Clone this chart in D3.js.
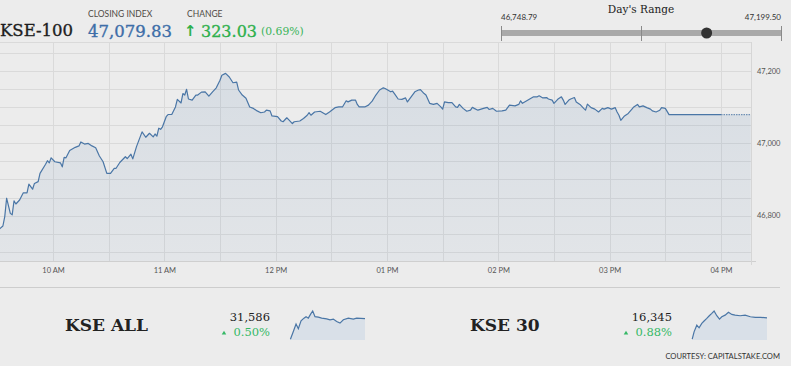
<!DOCTYPE html>
<html>
<head>
<meta charset="utf-8">
<script src="https://cdn.jsdelivr.net/npm/d3@7"></script>
<style>
  body { margin: 0; background: #ececec; }
  svg { display: block; font-family: Lato, sans-serif; }
  .serif { font-family: "DejaVu Serif", serif; }
  .heavy { stroke-width: 0.35px; }
  .grid line { stroke: #dadada; stroke-width: 1; }
  .axis-label { font-size: 7.5px; fill: #555; }
</style>
</head>
<body>
<div id="board"></div>
<script>
// Header numbers
const closingIndex = 47079.83;
const changePoints = 323.03;
const changePct = 0.69;
const dayRange = [46748.79, 47199.50];

// KSE-100 intraday, [time, index]
const kse100Ticks = [
  ["09:30",46749],["09:31",46762],["09:33",46771],["09:34",46797],["09:35",46848],["09:37",46806],["09:38",46802],
  ["09:39",46841],["09:40",46832],["09:42",46843],["09:44",46863],["09:46",46863],["09:47",46887],["09:49",46873],
  ["09:50",46889],["09:52",46894],["09:53",46917],["09:56",46942],["09:57",46952],["09:58",46946],["09:59",46960],
  ["10:01",46949],["10:04",46946],["10:05",46935],["10:06",46961],["10:07",46960],["10:09",46980],["10:12",46989],
  ["10:14",46993],["10:15",47004],["10:17",46998],["10:19",47000],["10:21",46993],["10:23",46988],["10:25",46965],
  ["10:27",46949],["10:29",46917],["10:31",46917],["10:33",46931],["10:34",46931],["10:36",46947],["10:39",46963],
  ["10:40",46958],["10:42",46970],["10:43",46957],["10:45",46991],["10:48",47032],["10:50",47017],["10:52",47028],
  ["10:54",47018],["10:55",47026],["10:56",47020],["10:57",47042],["10:58",47039],["10:59",47046],["11:01",47074],
  ["11:02",47080],["11:04",47080],["11:06",47101],["11:07",47122],["11:09",47112],["11:10",47138],["11:11",47134],
  ["11:12",47150],["11:13",47123],["11:15",47120],["11:17",47134],["11:18",47134],["11:20",47142],["11:22",47143],
  ["11:24",47131],["11:26",47143],["11:28",47154],["11:30",47175],["11:31",47189],["11:33",47194],["11:35",47184],
  ["11:37",47168],["11:39",47170],["11:40",47148],["11:42",47134],["11:44",47125],["11:46",47101],["11:48",47097],
  ["11:50",47090],["11:52",47085],["11:54",47087],["11:55",47092],["11:57",47090],["11:58",47076],["12:01",47074],
  ["12:03",47062],["12:04",47060],["12:06",47071],["12:07",47066],["12:09",47055],["12:10",47060],["12:13",47062],
  ["12:15",47069],["12:17",47078],["12:18",47085],["12:19",47078],["12:21",47087],["12:24",47089],["12:27",47080],
  ["12:29",47087],["12:32",47099],["12:34",47101],["12:36",47101],["12:38",47118],["12:39",47115],["12:41",47120],
  ["12:43",47120],["12:44",47108],["12:45",47101],["12:48",47101],["12:50",47106],["12:52",47117],["12:54",47134],
  ["12:56",47148],["12:58",47154],["12:59",47152],["13:02",47143],["13:03",47145],["13:04",47138],["13:06",47123],
  ["13:08",47122],["13:10",47126],["13:11",47115],["13:13",47129],["13:15",47143],["13:17",47148],["13:18",47149],
  ["13:20",47138],["13:21",47134],["13:23",47111],["13:25",47108],["13:27",47111],["13:29",47101],["13:30",47095],
  ["13:31",47115],["13:33",47113],["13:35",47113],["13:37",47101],["13:38",47100],["13:39",47108],["13:41",47097],
  ["13:43",47089],["13:45",47092],["13:46",47100],["13:47",47097],["13:49",47092],["13:52",47097],["13:54",47100],
  ["13:55",47094],["13:57",47097],["13:59",47089],["14:02",47090],["14:04",47092],["14:06",47106],["14:09",47104],
  ["14:11",47108],["14:12",47118],["14:13",47111],["14:16",47120],["14:19",47129],["14:21",47129],["14:22",47132],
  ["14:24",47126],["14:26",47127],["14:27",47123],["14:29",47120],["14:30",47111],["14:32",47122],["14:34",47129],
  ["14:35",47120],["14:36",47108],["14:38",47120],["14:39",47123],["14:41",47127],["14:42",47115],["14:44",47108],
  ["14:46",47097],["14:47",47092],["14:48",47109],["14:50",47099],["14:52",47095],["14:54",47087],["14:56",47097],
  ["14:57",47095],["14:59",47099],["15:01",47095],["15:03",47099],["15:04",47087],["15:05",47078],["15:06",47064],
  ["15:08",47076],["15:10",47083],["15:12",47095],["15:13",47101],["15:15",47108],["15:16",47101],["15:18",47104],
  ["15:20",47099],["15:22",47095],["15:23",47090],["15:25",47087],["15:27",47092],["15:28",47099],["15:30",47097],
  ["15:32",47079.83],["16:00",47079.83],["16:16",47079.83]
];

// Sparklines
const kseAllTicks = [
  ["09:32",31436],["09:46",31492],["09:59",31546],["10:10",31512],["10:23",31569],["10:37",31589],["10:47",31600],
  ["10:58",31589],["11:09",31618],["11:19",31641],["11:30",31600],["11:46",31596],["12:02",31589],["12:26",31584],
  ["12:42",31577],["12:58",31582],["13:14",31564],["13:30",31553],["13:46",31577],["14:10",31589],["14:34",31582],
  ["14:50",31589],["15:30",31586]
];
const kse30Ticks = [
  ["09:31",16200],["09:40",16250],["09:53",16295],["10:04",16277],["10:17",16307],["10:28",16323],["10:41",16341],
  ["10:53",16359],["11:05",16375],["11:16",16391],["11:29",16359],["11:42",16336],["11:53",16352],["12:09",16363],
  ["12:25",16382],["12:41",16368],["12:57",16363],["13:21",16359],["13:45",16363],["14:10",16352],["14:34",16348],
  ["14:58",16348],["15:30",16345]
];
const otherNames = ["KSE ALL", "KSE 30"];
const otherLast = [31586, 16345];
const otherPct = [0.50, 0.88];

// Axis ticks
const yTickValues = [46800, 47000, 47200];
const hourTicks = ["10:00", "11:00", "12:00", "13:00", "14:00", "15:00", "16:00"];

const parseTime = d3.timeParse("%H:%M");

class IntradayChart {
  constructor(_config) {
    this.config = {
      data: _config.data,
      parentElement: _config.parentElement,
      svgWidth: _config.svgWidth || 791,
      svgHeight: _config.svgHeight || 366
    };
    this.initVis();
  }

  plot = {left: 0, right: 751, top: 42, bottom: 261};

  initVis() {
    const vis = this;

    vis.svg = d3.select(vis.config.parentElement).append('svg')
      .attr('width', vis.config.svgWidth)
      .attr('height', vis.config.svgHeight);

    // 10AM and 4PM grid positions
    vis.xScale = d3.scaleTime()
      .domain([parseTime("10:00"), parseTime("16:00")])
      .range([53, 721]);

    vis.yScale = d3.scaleLinear()
      .domain([46674, 47281])
      .range([vis.plot.bottom, vis.plot.top]);

    vis.data = vis.config.data.map(d => ({t: parseTime(d[0]), v: d[1]}));
    vis.renderVis();
  }

  renderVis() {
    const vis = this;
    const p = vis.plot;

    const defs = vis.svg.append('defs');
    const grad = defs.append('linearGradient')
      .attr('id', 'area-fill')
      .attr('x1', 0).attr('y1', 0).attr('x2', 0).attr('y2', 1);
    grad.append('stop').attr('offset', '0%').attr('stop-color', '#4b78aa').attr('stop-opacity', 0.13);
    grad.append('stop').attr('offset', '100%').attr('stop-color', '#4b78aa').attr('stop-opacity', 0.06);

    defs.append('clipPath').attr('id', 'plot-clip')
      .append('rect')
      .attr('x', p.left).attr('y', p.top)
      .attr('width', p.right - p.left).attr('height', p.bottom - p.top);

    defs.append('clipPath').attr('id', 'label-clip')
      .append('rect')
      .attr('x', 0).attr('y', 0).attr('width', 780).attr('height', 366);

    // Grid
    const hGrid = d3.range(46700, 47251, 50);
    const vGrid = d3.timeMinute.every(30).range(parseTime("10:00"), d3.timeMinute.offset(parseTime("16:00"), 1));

    const grid = vis.svg.append('g').attr('class', 'grid');
    grid.selectAll('.h').data(hGrid).join('line')
      .attr('x1', p.left).attr('x2', p.right)
      .attr('y1', d => Math.round(vis.yScale(d)) + 0.5)
      .attr('y2', d => Math.round(vis.yScale(d)) + 0.5);
    grid.selectAll('.v').data(vGrid).join('line')
      .attr('y1', p.top).attr('y2', p.bottom)
      .attr('x1', d => Math.round(vis.xScale(d)) + 0.5)
      .attr('x2', d => Math.round(vis.xScale(d)) + 0.5);
    grid.append('line')
      .attr('x1', p.left).attr('x2', p.right)
      .attr('y1', p.top + 0.5).attr('y2', p.top + 0.5);

    // Area + line
    const chart = vis.svg.append('g').attr('clip-path', 'url(#plot-clip)');
    const area = d3.area()
      .x(d => vis.xScale(d.t))
      .y0(p.bottom)
      .y1(d => vis.yScale(d.v));
    const line = d3.line()
      .x(d => vis.xScale(d.t))
      .y(d => vis.yScale(d.v));

    chart.append('path')
      .datum(vis.data)
      .attr('fill', 'url(#area-fill)')
      .attr('d', area);

    const closeTime = parseTime("16:00");
    chart.append('path')
      .datum(vis.data.filter(d => d.t <= closeTime))
      .attr('fill', 'none')
      .attr('stroke', '#4a76a6')
      .attr('stroke-width', 1.2)
      .attr('stroke-linejoin', 'round')
      .attr('d', line);
    // After-hours part is drawn dotted
    chart.append('path')
      .datum(vis.data.filter(d => d.t >= closeTime))
      .attr('fill', 'none')
      .attr('stroke', '#6f90b5')
      .attr('stroke-width', 1.1)
      .attr('stroke-dasharray', '1.5,1')
      .attr('d', line);

    // Axes
    const xAxis = d3.axisBottom(vis.xScale)
      .tickValues(hourTicks.map(parseTime))
      .tickFormat(d3.timeFormat("%I %p"))
      .tickSize(0)
      .tickPadding(7);
    const xAxisGroup = vis.svg.append('g')
      .attr('transform', `translate(0, ${p.bottom})`)
      .call(xAxis);
    xAxisGroup.select('.domain').remove();
    xAxisGroup.selectAll('text').attr('class', 'axis-label').attr('font-family', 'Lato');

    vis.svg.append('line')
      .attr('x1', p.left).attr('x2', p.right + 5)
      .attr('y1', p.bottom + 0.5).attr('y2', p.bottom + 0.5)
      .attr('stroke', '#cfcfcf');
    vis.svg.append('line')
      .attr('x1', p.right + 0.5).attr('x2', p.right + 0.5)
      .attr('y1', p.top).attr('y2', p.bottom + 4)
      .attr('stroke', '#d6d6d6');

    const yAxis = d3.axisRight(vis.yScale)
      .tickValues(yTickValues)
      .tickFormat(d3.format(","))
      .tickSize(0)
      .tickPadding(6);
    const yAxisGroup = vis.svg.append('g')
      .attr('transform', `translate(${p.right}, 0)`)
      .attr('clip-path', 'url(#label-clip)')
      .call(yAxis);
    yAxisGroup.select('.domain').remove();
    yAxisGroup.selectAll('text').attr('class', 'axis-label').attr('fill', '#444').attr('font-family', 'Lato');

    vis.drawHeader();
    vis.drawRange();
  }

  drawHeader() {
    const vis = this;
    const h = vis.svg.append('g');

    h.append('text').attr('class', 'serif heavy')
      .attr('x', 0).attr('y', 36)
      .attr('font-size', 16.5).attr('fill', '#1e1e1e').attr('stroke', '#1e1e1e')
      .text('KSE-100');

    h.append('text')
      .attr('x', 88).attr('y', 17)
      .attr('font-size', 8.5).attr('fill', '#4f4a45')
      .text('CLOSING INDEX');
    h.append('text').attr('class', 'serif heavy')
      .attr('x', 88).attr('y', 37)
      .attr('font-size', 16.5).attr('fill', '#3d6ea8').attr('stroke', '#3d6ea8')
      .text(d3.format(",.2f")(closingIndex));

    h.append('text')
      .attr('x', 187).attr('y', 17)
      .attr('font-size', 8.5).attr('fill', '#4f4a45')
      .text('CHANGE');
    h.append('text')
      .attr('x', 184).attr('y', 36)
      .attr('font-family', 'DejaVu Sans').attr('font-weight', 'bold')
      .attr('font-size', 15).attr('fill', '#2eb04c')
      .text('↑');
    h.append('text').attr('class', 'serif heavy')
      .attr('x', 201).attr('y', 37)
      .attr('font-size', 16).attr('fill', '#2eb04c').attr('stroke', '#2eb04c')
      .text(d3.format(".2f")(changePoints));
    h.append('text').attr('class', 'serif')
      .attr('x', 261).attr('y', 35)
      .attr('font-size', 10.8).attr('fill', '#3ab45a')
      .text(`(${changePct.toFixed(2)}%)`);
  }

  drawRange() {
    const vis = this;
    const g = vis.svg.append('g');
    const rangeScale = d3.scaleLinear().domain(dayRange).range([501, 781]);

    g.append('text').attr('class', 'serif')
      .attr('x', rangeScale(d3.mean(dayRange))).attr('y', 12.5)
      .attr('text-anchor', 'middle')
      .attr('font-size', 10.5).attr('fill', '#222')
      .text("Day's Range");
    g.append('text')
      .attr('x', rangeScale(dayRange[0])).attr('y', 19.5)
      .attr('font-size', 8).attr('fill', '#333')
      .text(d3.format(",.2f")(dayRange[0]));
    g.append('text')
      .attr('x', rangeScale(dayRange[1])).attr('y', 19.5)
      .attr('text-anchor', 'end')
      .attr('font-size', 8).attr('fill', '#333')
      .text(d3.format(",.2f")(dayRange[1]));

    g.append('rect')
      .attr('x', rangeScale(dayRange[0])).attr('y', 30)
      .attr('width', rangeScale(dayRange[1]) - rangeScale(dayRange[0]))
      .attr('height', 6)
      .attr('fill', '#a9a9a9');
    g.selectAll('.cap').data([dayRange[0], d3.mean(dayRange), dayRange[1]]).join('line')
      .attr('x1', d => Math.round(rangeScale(d)) + 0.5)
      .attr('x2', d => Math.round(rangeScale(d)) + 0.5)
      .attr('y1', 26).attr('y2', 41)
      .attr('stroke', '#8a8a8a');
    g.append('circle')
      .attr('cx', rangeScale(closingIndex)).attr('cy', 33)
      .attr('r', 5.5)
      .attr('fill', '#333');
  }
}

class Sparkline {
  constructor(_config) {
    this.config = _config;
    this.initVis();
  }

  initVis() {
    const vis = this;
    const c = vis.config;
    const data = c.data.map(d => ({t: parseTime(d[0]), v: d[1]}));

    const xScale = d3.scaleTime()
      .domain([parseTime("09:30"), parseTime("15:30")])
      .range([c.x0, c.x1]);
    const yScale = d3.scaleLinear()
      .domain(d3.extent(data, d => d.v))
      .range([c.bottom - 0.8, c.top]);

    const g = c.svg.append('g');
    g.append('path')
      .datum(data)
      .attr('fill', '#d9e0e8')
      .attr('d', d3.area().x(d => xScale(d.t)).y0(c.bottom).y1(d => yScale(d.v)));
    g.append('path')
      .datum(data)
      .attr('fill', 'none')
      .attr('stroke', '#4a76a6')
      .attr('stroke-width', 1.2)
      .attr('d', d3.line().x(d => xScale(d.t)).y(d => yScale(d.v)));

    g.append('text').attr('class', 'serif')
      .attr('x', c.nameX).attr('y', 331)
      .attr('font-size', 17).attr('font-weight', 'bold').attr('fill', '#222')
      .text(c.name);
    g.append('text').attr('class', 'serif')
      .attr('x', c.textRight).attr('y', 320.5)
      .attr('text-anchor', 'end')
      .attr('font-size', 11.5).attr('fill', '#222')
      .text(d3.format(",")(c.last));
    g.append('text').attr('class', 'serif')
      .attr('x', c.textRight).attr('y', 336)
      .attr('text-anchor', 'end')
      .attr('font-size', 11.5).attr('fill', '#35b866')
      .text(`${c.pct.toFixed(2)}%`);
    g.append('path')
      .attr('transform', `translate(${c.textRight - 46}, 333.3)`)
      .attr('fill', '#35b866')
      .attr('d', d3.symbol(d3.symbolTriangle, 9)());
  }
}

const kseChart = new IntradayChart({data: kse100Ticks, parentElement: '#board'});
const svg = kseChart.svg;

// Bottom strip
svg.append('line')
  .attr('x1', 0).attr('x2', 780)
  .attr('y1', 287.5).attr('y2', 287.5)
  .attr('stroke', '#cdcdcd');

new Sparkline({svg, data: kseAllTicks, name: otherNames[0], last: otherLast[0], pct: otherPct[0],
  nameX: 65, textRight: 270, x0: 290, x1: 365, top: 311, bottom: 340});
new Sparkline({svg, data: kse30Ticks, name: otherNames[1], last: otherLast[1], pct: otherPct[1],
  nameX: 470, textRight: 672, x0: 692, x1: 767, top: 311, bottom: 340});

svg.append('text')
  .attr('x', 780).attr('y', 359)
  .attr('text-anchor', 'end')
  .attr('font-size', 7.6).attr('fill', '#333')
  .text('COURTESY: CAPITALSTAKE.COM');
</script>
</body>
</html>
